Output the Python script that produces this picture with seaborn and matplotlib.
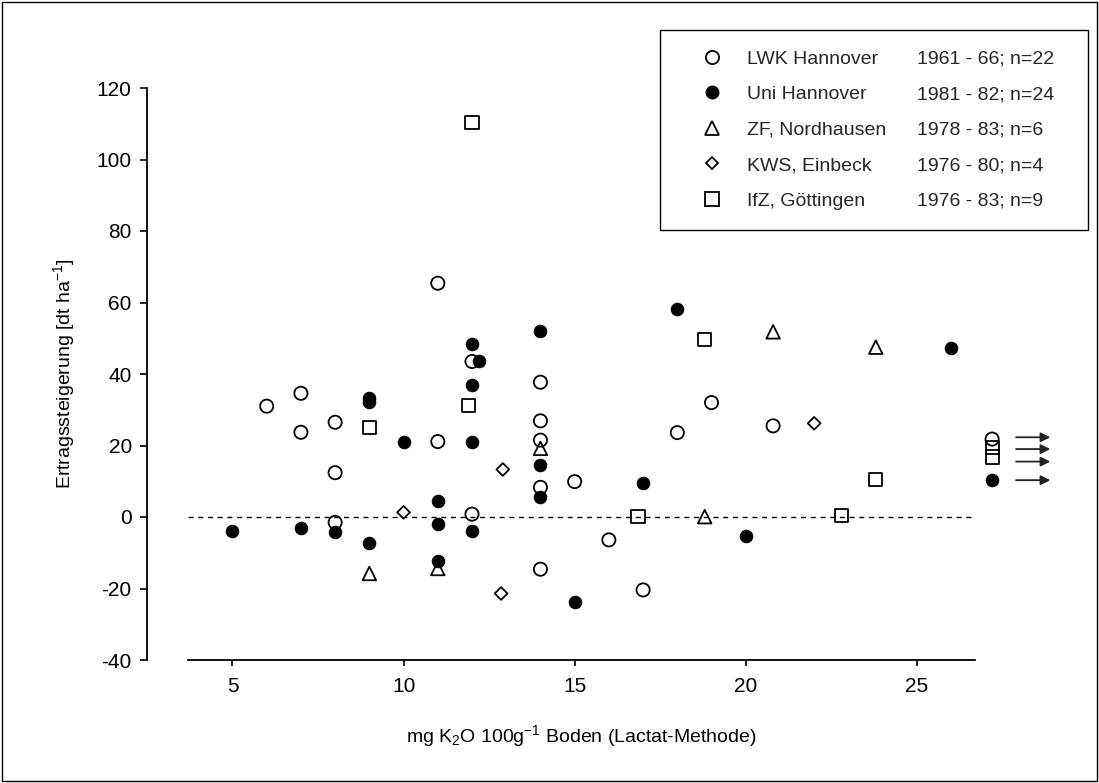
import matplotlib
matplotlib.use('Agg')
import matplotlib.pyplot as plt
import seaborn as sns
import pandas as pd
from matplotlib.lines import Line2D
from matplotlib.patches import Rectangle

# ---- data ----
lwk_x = [6, 7, 7, 8, 8, 8, 11, 11, 12, 12, 14, 14, 14, 14, 14, 15, 16, 17, 18, 19, 20.8, 27.2]
lwk_y = [31.0, 34.6, 23.7, 26.5, 12.4, -1.5, 65.4, 21.1, 43.5, 0.8, 37.7, 26.9, 21.5, 8.3,
         -14.6, 9.9, -6.4, -20.4, 23.6, 32.0, 25.5, 21.8]
uni_x = [5, 7, 8, 9, 9, 9, 10, 11, 11, 11, 12, 12.2, 12, 12, 12, 14, 14, 14, 15, 17, 18, 20, 26, 27.2]
uni_y = [-3.9, -3.0, -4.1, 33.3, 32.3, -7.4, 21.1, 4.6, -2.0, -12.3, 48.4, 43.5, 37.0, 21.1,
         -3.8, 52.1, 14.5, 5.5, -23.9, 9.6, 58.1, -5.2, 47.2, 10.3]
zf_x = [9, 11, 14, 18.8, 20.8, 23.8]
zf_y = [-15.8, -14.4, 19.2, 0.1, 51.8, 47.5]
kws_x = [10, 12.9, 12.85, 22]
kws_y = [1.3, 13.3, -21.4, 26.2]
ifz_x = [9, 11.9, 12, 16.85, 18.8, 22.8, 23.8, 27.2, 27.2]
ifz_y = [25.0, 31.3, 110.3, 0.1, 49.7, 0.4, 10.6, 19.5, 16.8]
arrow_y = [22.3, 19.0, 15.5, 10.3]

series_names = ["LWK Hannover", "Uni Hannover", "ZF, Nordhausen", "KWS, Einbeck", "IfZ, Göttingen"]
series_periods = ["1961 - 66; n=22", "1981 - 82; n=24", "1978 - 83; n=6", "1976 - 80; n=4", "1976 - 83; n=9"]
x_ticks = [5, 10, 15, 20, 25]
y_ticks = [-40, -20, 0, 20, 40, 60, 80, 100, 120]

# ---- style ----
sns.set_theme(style="ticks")
plt.rcParams['font.family'] = ['Liberation Sans', 'DejaVu Sans']
plt.rcParams['mathtext.fontset'] = 'custom'
plt.rcParams['mathtext.rm'] = 'Liberation Sans'
plt.rcParams['mathtext.it'] = 'Liberation Sans:italic'
plt.rcParams['mathtext.bf'] = 'Liberation Sans:bold'
FS_TICK = 15
FS_LAB = 14
FS_LEG = 14

W, H = 1099, 783
fig = plt.figure(figsize=(W / 100, H / 100), dpi=100)
fig.patch.set_facecolor('white')
fig.patches.append(Rectangle((0.002, 0.003), 0.996, 0.994, transform=fig.transFigure,
                             fill=False, edgecolor='black', linewidth=1.0))

ax = fig.add_axes([188 / W, 1 - 660 / H, (975 - 188) / W, (660 - 88) / H])
ax.set_facecolor('white')

dfs = {
    'lwk': pd.DataFrame({'x': lwk_x, 'y': lwk_y}),
    'uni': pd.DataFrame({'x': uni_x, 'y': uni_y}),
    'zf': pd.DataFrame({'x': zf_x, 'y': zf_y}),
    'kws': pd.DataFrame({'x': kws_x, 'y': kws_y}),
    'ifz': pd.DataFrame({'x': ifz_x, 'y': ifz_y}),
}

ax.axhline(0, color='black', linewidth=1.0, linestyle=(0, (3.6, 3.4)), zorder=1)

common = dict(ax=ax, x='x', y='y', legend=False, clip_on=False, zorder=3)
sns.scatterplot(data=dfs['lwk'], marker='o', s=90, facecolors='none', edgecolor='black', linewidth=1.3, **common)
sns.scatterplot(data=dfs['zf'], marker='^', s=95, facecolors='none', edgecolor='black', linewidth=1.3, **common)
sns.scatterplot(data=dfs['kws'], marker='D', s=42, facecolors='none', edgecolor='black', linewidth=1.3, **common)
sns.scatterplot(data=dfs['ifz'], marker='s', s=90, facecolors='none', edgecolor='black', linewidth=1.3, **common)
sns.scatterplot(data=dfs['uni'], marker='o', s=80, color='black', edgecolor='black', linewidth=0.8, **common)

for yv in arrow_y:
    ax.annotate('', xy=(28.9, yv), xytext=(27.9, yv), xycoords='data', annotation_clip=False,
                arrowprops=dict(arrowstyle='-|>', color='#222222', lw=1.3, mutation_scale=14,
                                shrinkA=0, shrinkB=0))

ax.set_xlim(3.7, 26.7)
ax.set_ylim(-40, 120)
ax.set_xticks(x_ticks)
ax.set_yticks(y_ticks)
ax.set_xticklabels([str(v) for v in x_ticks])
ax.set_yticklabels([str(v) for v in y_ticks])

for s in ['top', 'right']:
    ax.spines[s].set_visible(False)
ax.spines['left'].set_position(('outward', 29.5))
for s in ['left', 'bottom']:
    ax.spines[s].set_color('black')
    ax.spines[s].set_linewidth(1.3)
ax.tick_params(axis='both', direction='out', color='black', width=1.2, labelsize=FS_TICK, labelcolor='black')
ax.tick_params(axis='x', length=4, pad=8)
ax.tick_params(axis='y', length=5, pad=6)

ax.set_xlabel(r'mg K$_2$O 100g$^{-1}$ Boden (Lactat-Methode)', fontsize=FS_LAB, color='black', labelpad=20)
ax.set_ylabel(r'Ertragssteigerung [dt ha$^{-1}$]', fontsize=FS_LAB, color='black', labelpad=14)

# ---- legend (two text columns) with a separately drawn frame ----
ax.add_patch(Rectangle((660 / W, 1 - 230 / H), (1088 - 660) / W, 200 / H,
                       transform=fig.transFigure, fill=True, facecolor='white',
                       edgecolor='black', linewidth=1.0, zorder=9, clip_on=False))
handles = [
    Line2D([], [], linestyle='none', marker='o', markersize=9.5, markerfacecolor='none', markeredgecolor='black', markeredgewidth=1.3),
    Line2D([], [], linestyle='none', marker='o', markersize=9, markerfacecolor='black', markeredgecolor='black'),
    Line2D([], [], linestyle='none', marker='^', markersize=9.5, markerfacecolor='none', markeredgecolor='black', markeredgewidth=1.3),
    Line2D([], [], linestyle='none', marker='D', markersize=6.5, markerfacecolor='none', markeredgecolor='black', markeredgewidth=1.3),
    Line2D([], [], linestyle='none', marker='s', markersize=9.5, markerfacecolor='none', markeredgecolor='black', markeredgewidth=1.3),
]
blank = [Line2D([], [], linestyle='none') for _ in series_periods]
leg = ax.legend(handles + blank, series_names + series_periods, ncol=2,
                loc='upper left', bbox_to_anchor=(700 / W, 1 - 50 / H),
                bbox_transform=fig.transFigure, frameon=False,
                fontsize=FS_LEG, handlelength=1.2,
                handletextpad=1.2, columnspacing=-0.8, labelspacing=0.92,
                borderpad=0, borderaxespad=0)
leg.set_zorder(10)

fig.savefig('out.png', dpi=100, facecolor='white')
